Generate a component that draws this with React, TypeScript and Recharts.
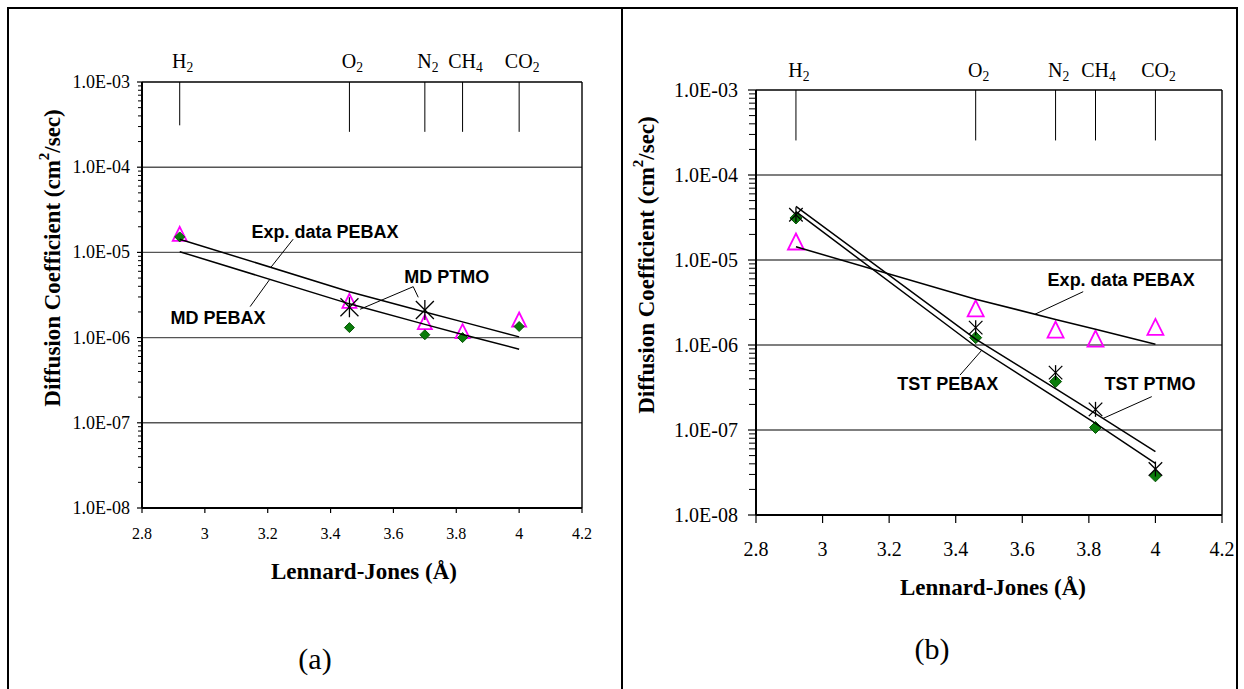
import React from "react";
import { ScatterChart, Scatter, XAxis, YAxis, ReferenceLine, ReferenceDot } from "recharts";

// gases along the top of both panels
const GAS_NAMES = ["H", "O", "N", "CH", "CO"];
const GAS_SUBSCRIPTS = ["2", "2", "2", "4", "2"];
const LJ_DIAMETER = [2.92, 3.46, 3.7, 3.82, 4.0];

// diffusion coefficients (cm2/sec)
const EXP_PEBAX = [1.65e-5, 2.7e-6, 1.52e-6, 1.19e-6, 1.63e-6];
const EXP_PEBAX_TREND = [1.43e-5, 3.46e-6, 2.0e-6, 1.53e-6, 1.02e-6];

const MD_PEBAX = [1.52e-5, 1.31e-6, 1.08e-6, 1.0e-6, 1.35e-6];
const MD_PEBAX_TREND = [1.02e-5, 2.49e-6, 1.43e-6, 1.09e-6, 7.3e-7];
const MD_PTMO = [null, 2.27e-6, 2.11e-6, null, null];

const TST_PEBAX = [3.12e-5, 1.22e-6, 3.71e-7, 1.07e-7, 2.89e-8];
const TST_PEBAX_TREND = [3.7e-5, 9.6e-7, 2.4e-7, 1.2e-7, 4.06e-8];
const TST_PTMO = [3.41e-5, 1.6e-6, 4.73e-7, 1.75e-7, 3.47e-8];
const TST_PTMO_TREND = [4.28e-5, 1.17e-6, 3.06e-7, 1.56e-7, 5.56e-8];

const X_TICKS = [2.8, 3, 3.2, 3.4, 3.6, 3.8, 4, 4.2];
const Y_MAJOR = [1e-8, 1e-7, 1e-6, 1e-5, 1e-4, 1e-3];
const Y_TICKS = Y_MAJOR.slice(0, -1)
  .flatMap((d) => [1, 2, 3, 4, 5, 6, 7, 8, 9].map((m) => m * d))
  .concat([1e-3]);

const GAS_TICK_END_A = [3.1e-4, 2.6e-4, 2.6e-4, 2.6e-4, 2.6e-4];
const GAS_TICK_END_B = [2.55e-4, 2.55e-4, 2.55e-4, 2.55e-4, 2.55e-4];

const SERIF = '"Liberation Serif", "Times New Roman", serif';
const SANS = '"Liberation Sans", Arial, sans-serif';

type Pt = { x: number; y: number };
type Note = { text: string; x: number; y: number };
type Leader = [Pt, Pt];

function toPoints(values: (number | null)[]): Pt[] {
  const out: Pt[] = [];
  values.forEach((v, i) => {
    if (v != null) out.push({ x: LJ_DIAMETER[i], y: v });
  });
  return out;
}

function sciLabel(v: number) {
  const e = Math.round(Math.log10(v));
  return `1.0E${e < 0 ? "-" : "+"}${String(Math.abs(e)).padStart(2, "0")}`;
}

function isMajor(v: number) {
  const l = Math.log10(v);
  return Math.abs(l - Math.round(l)) < 1e-6;
}

const NOTES_A: Note[] = [
  { text: "Exp. data PEBAX", x: 3.382, y: 1.735e-5 },
  { text: "MD PEBAX", x: 3.042, y: 1.7e-6 },
  { text: "MD PTMO", x: 3.77, y: 5.14e-6 },
];
const LEADERS_A: Leader[] = [
  [{ x: 3.281, y: 1.43e-5 }, { x: 3.209, y: 6.6e-6 }],
  [{ x: 3.144, y: 2.31e-6 }, { x: 3.207, y: 4.85e-6 }],
  [{ x: 3.663, y: 3.96e-6 }, { x: 3.494, y: 2.15e-6 }],
  [{ x: 3.663, y: 3.96e-6 }, { x: 3.679, y: 2.97e-6 }],
];

const NOTES_B: Note[] = [
  { text: "Exp. data PEBAX", x: 3.897, y: 5.82e-6 },
  { text: "TST PEBAX", x: 3.376, y: 3.47e-7 },
  { text: "TST PTMO", x: 3.984, y: 3.52e-7 },
];
const LEADERS_B: Leader[] = [
  [{ x: 3.783, y: 4.24e-6 }, { x: 3.638, y: 2.3e-6 }],
  [{ x: 3.413, y: 4.43e-7 }, { x: 3.478, y: 8.65e-7 }],
  [{ x: 3.989, y: 2.47e-7 }, { x: 3.843, y: 1.37e-7 }],
];

type PanelCfg = {
  left: number;
  width: number;
  height: number;
  margin: { top: number; right: number; bottom: number; left: number };
  yFont: number;
  xFont: number;
  yLabelGap: number;
  majorLen: number;
  minorLen: number;
  xTickLen: number;
  xLabelDy: number;
  gasFont: number;
  gasLift: number;
  gasTickEnd: number[];
  triangle: number;
  diamond: number;
  star: number;
  diamonds: (number | null)[];
  stars: (number | null)[];
  trends: number[][];
  notes: Note[];
  leaders: Leader[];
};

const triangleShape = (size: number) => (props: any) => {
  const { cx, cy } = props;
  const h = size;
  const w = size;
  return (
    <path
      d={`M${cx},${cy - h / 2} L${cx + w / 2},${cy + h / 2} L${cx - w / 2},${cy + h / 2} Z`}
      fill="none"
      stroke="#FF00FF"
      strokeWidth={1.8}
    />
  );
};

const diamondShape = (s: number) => (props: any) => {
  const { cx, cy } = props;
  return (
    <path
      d={`M${cx},${cy - s} L${cx + s},${cy} L${cx},${cy + s} L${cx - s},${cy} Z`}
      fill="#0b7d0b"
      stroke="#075507"
      strokeWidth={1}
    />
  );
};

const starShape = (s: number) => (props: any) => {
  const { cx, cy } = props;
  const a = s * 0.9;
  return (
    <g stroke="#000" strokeWidth={1.3}>
      <line x1={cx - a} y1={cy - a} x2={cx + a} y2={cy + a} />
      <line x1={cx - a} y1={cy + a} x2={cx + a} y2={cy - a} />
      <line x1={cx} y1={cy - s} x2={cx} y2={cy + s} />
    </g>
  );
};

const noShape = () => <g />;

function Panel({ cfg }: { cfg: PanelCfg }) {
  const yTick = (props: any) => {
    const { x, y, payload } = props;
    const v = payload.value as number;
    if (!isMajor(v)) {
      return <line x1={x - cfg.minorLen} y1={y} x2={x} y2={y} stroke="#000" strokeWidth={1} />;
    }
    return (
      <g>
        <line x1={x - cfg.majorLen} y1={y} x2={x} y2={y} stroke="#000" strokeWidth={1.2} />
        <text
          x={x - cfg.yLabelGap}
          y={y}
          textAnchor="end"
          dominantBaseline="central"
          fontFamily={SERIF}
          fontSize={cfg.yFont}
          fill="#000"
        >
          {sciLabel(v)}
        </text>
      </g>
    );
  };

  const xTick = (props: any) => {
    const { x, y, payload } = props;
    return (
      <g>
        <line x1={x} y1={y} x2={x} y2={y + cfg.xTickLen} stroke="#000" strokeWidth={1.2} />
        <text
          x={x}
          y={y + cfg.xLabelDy}
          textAnchor="middle"
          dominantBaseline="central"
          fontFamily={SERIF}
          fontSize={cfg.xFont}
          fill="#000"
        >
          {String(payload.value)}
        </text>
      </g>
    );
  };

  return (
    <div style={{ position: "absolute", left: cfg.left, top: 0 }}>
      <ScatterChart width={cfg.width} height={cfg.height} margin={cfg.margin}>
        <XAxis
          type="number"
          dataKey="x"
          domain={[2.8, 4.2]}
          ticks={X_TICKS}
          interval={0}
          allowDataOverflow
          height={40}
          tickSize={0}
          tickMargin={0}
          tickLine={false}
          tick={xTick}
          axisLine={{ stroke: "#000", strokeWidth: 2 }}
        />
        <YAxis
          type="number"
          dataKey="y"
          scale="log"
          domain={[1e-8, 1e-3]}
          ticks={Y_TICKS}
          interval={0}
          allowDataOverflow
          width={80}
          tickSize={0}
          tickMargin={0}
          tickLine={false}
          tick={yTick}
          axisLine={{ stroke: "#000", strokeWidth: 2 }}
        />
        {Y_MAJOR.slice(1, -1).map((v) => (
          <ReferenceLine key={`grid-${v}`} y={v} stroke="#555" strokeWidth={1.4} />
        ))}
        <ReferenceLine y={1e-3} stroke="#000" strokeWidth={1.6} />
        <ReferenceLine x={4.2} stroke="#000" strokeWidth={1.4} />
        {LJ_DIAMETER.map((x, i) => (
          <ReferenceLine
            key={`gas-line-${i}`}
            segment={[
              { x, y: 1e-3 },
              { x, y: cfg.gasTickEnd[i] },
            ]}
            stroke="#000"
            strokeWidth={1}
          />
        ))}
        {LJ_DIAMETER.map((x, i) => (
          <ReferenceDot
            key={`gas-label-${i}`}
            x={x}
            y={1e-3}
            r={0}
            shape={(p: any) => (
              <text
                x={p.cx + 3}
                y={p.cy - cfg.gasLift}
                textAnchor="middle"
                fontFamily={SERIF}
                fontSize={cfg.gasFont}
                fill="#000"
              >
                {GAS_NAMES[i]}
                <tspan dy={4} fontSize={cfg.gasFont * 0.68}>
                  {GAS_SUBSCRIPTS[i]}
                </tspan>
              </text>
            )}
          />
        ))}
        <Scatter
          data={toPoints(EXP_PEBAX)}
          shape={triangleShape(cfg.triangle)}
          isAnimationActive={false}
        />
        <Scatter
          data={toPoints(cfg.diamonds)}
          shape={diamondShape(cfg.diamond)}
          isAnimationActive={false}
        />
        <Scatter data={toPoints(cfg.stars)} shape={starShape(cfg.star)} isAnimationActive={false} />
        {cfg.trends.map((t, i) => (
          <Scatter
            key={`trend-${i}`}
            data={toPoints(t)}
            line={{ stroke: "#000", strokeWidth: 1.5 }}
            shape={noShape}
            isAnimationActive={false}
          />
        ))}
        {cfg.leaders.map((l, i) => (
          <ReferenceLine key={`leader-${i}`} segment={l} stroke="#000" strokeWidth={1} />
        ))}
        {cfg.notes.map((n, i) => (
          <ReferenceDot
            key={`note-${i}`}
            x={n.x}
            y={n.y}
            r={0}
            shape={(p: any) => (
              <text
                x={p.cx}
                y={p.cy}
                textAnchor="middle"
                dominantBaseline="central"
                fontFamily={SANS}
                fontWeight="bold"
                fontSize={18}
                fill="#000"
              >
                {n.text}
              </text>
            )}
          />
        ))}
      </ScatterChart>
    </div>
  );
}

const PANEL_A: PanelCfg = {
  left: 0,
  width: 620,
  height: 600,
  margin: { top: 82, right: 38, bottom: 52, left: 62 },
  yFont: 18,
  xFont: 16,
  yLabelGap: 12,
  majorLen: 5,
  minorLen: 4,
  xTickLen: 5,
  xLabelDy: 25,
  gasFont: 20,
  gasLift: 14,
  gasTickEnd: GAS_TICK_END_A,
  triangle: 14,
  diamond: 5,
  star: 10,
  diamonds: MD_PEBAX,
  stars: MD_PTMO,
  trends: [EXP_PEBAX_TREND, MD_PEBAX_TREND],
  notes: NOTES_A,
  leaders: LEADERS_A,
};

const PANEL_B: PanelCfg = {
  left: 620,
  width: 624,
  height: 600,
  margin: { top: 90, right: 22, bottom: 45, left: 56 },
  yFont: 20,
  xFont: 20,
  yLabelGap: 18,
  majorLen: 8,
  minorLen: 7,
  xTickLen: 8,
  xLabelDy: 34,
  gasFont: 20,
  gasLift: 13,
  gasTickEnd: GAS_TICK_END_B,
  triangle: 16,
  diamond: 6,
  star: 7.5,
  diamonds: TST_PEBAX,
  stars: TST_PTMO,
  trends: [EXP_PEBAX_TREND, TST_PEBAX_TREND, TST_PTMO_TREND],
  notes: NOTES_B,
  leaders: LEADERS_B,
};

function YTitle({ x, y }: { x: number; y: number }) {
  return (
    <text
      x={x}
      y={y}
      transform={`rotate(-90 ${x} ${y})`}
      textAnchor="middle"
      dominantBaseline="central"
      fontFamily={SERIF}
      fontWeight="bold"
      fontSize={23}
      fill="#000"
    >
      Diffusion Coefficient (cm
      <tspan dy={-8} fontSize={15}>
        2
      </tspan>
      <tspan dy={8}>/sec)</tspan>
    </text>
  );
}

function XTitle({ x, y }: { x: number; y: number }) {
  return (
    <text
      x={x}
      y={y}
      textAnchor="middle"
      dominantBaseline="central"
      fontFamily={SERIF}
      fontWeight="bold"
      fontSize={23}
      fill="#000"
    >
      Lennard-Jones (Å)
    </text>
  );
}

export default function App() {
  return (
    <div
      style={{
        position: "absolute",
        left: 0,
        top: 0,
        width: 1244,
        height: 689,
        overflow: "hidden",
        background: "#fff",
      }}
    >
      <Panel cfg={PANEL_A} />
      <Panel cfg={PANEL_B} />
      <div
        style={{
          position: "absolute",
          left: 7,
          top: 7,
          width: 1231,
          height: 720,
          border: "2px solid #000",
          boxSizing: "border-box",
        }}
      />
      <div style={{ position: "absolute", left: 621, top: 7, width: 2, height: 720, background: "#000" }} />
      <svg
        width={1244}
        height={689}
        style={{ position: "absolute", left: 0, top: 0, pointerEvents: "none" }}
      >
        <YTitle x={52} y={258} />
        <YTitle x={646} y={265} />
        <XTitle x={364} y={571} />
        <XTitle x={993} y={587} />
        <text x={315} y={658} textAnchor="middle" dominantBaseline="central" fontFamily={SERIF} fontSize={30}>
          (a)
        </text>
        <text x={932} y={648} textAnchor="middle" dominantBaseline="central" fontFamily={SERIF} fontSize={30}>
          (b)
        </text>
      </svg>
    </div>
  );
}
